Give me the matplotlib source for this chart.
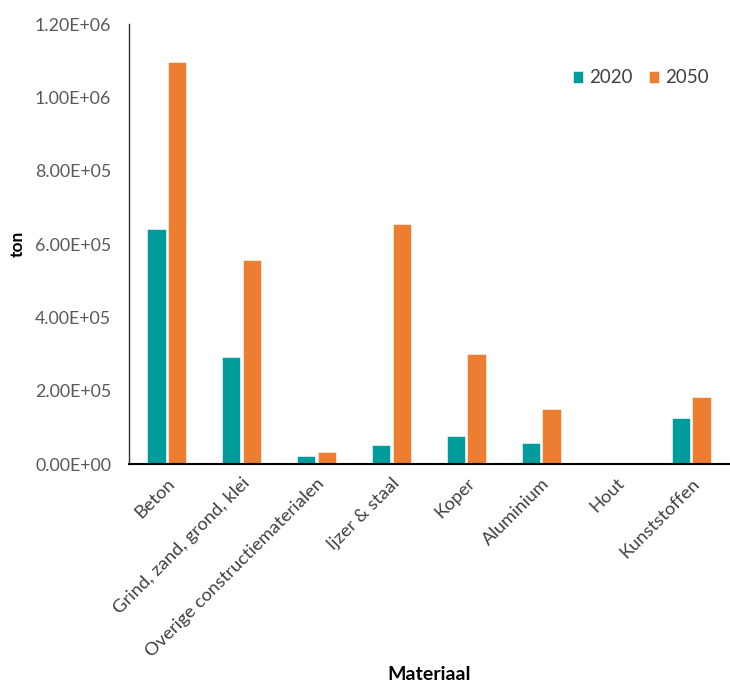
import matplotlib
matplotlib.use("Agg")
import matplotlib.pyplot as plt
import numpy as np

categories = ["Beton", "Grind, zand, grond, klei", "Overige constructiematerialen",
              "Ijzer & staal", "Koper", "Aluminium", "Hout", "Kunststoffen"]
values_2020 = [6.41e5, 2.92e5, 2.3e4, 5.2e4, 7.7e4, 5.7e4, 0, 1.25e5]
values_2050 = [1.096e6, 5.56e5, 3.4e4, 6.55e5, 3.0e5, 1.49e5, 0, 1.83e5]
series_labels = ["2020", "2050"]
y_ticks = [0, 2e5, 4e5, 6e5, 8e5, 1e6, 1.2e6]

teal = "#009B9B"
orange = "#ED7D31"
font = ["Lato", "DejaVu Sans"]
plt.rcParams["font.family"] = font

fig = plt.figure(figsize=(7.30, 6.86), dpi=100)
ax = fig.add_axes([0.177, 0.3236, 0.821, 0.6414])

x = np.arange(len(categories))
w = 0.245
ax.bar(x - w / 2 - 0.015, values_2020, width=w, color=teal, label=series_labels[0],
       edgecolor="white", linewidth=0.4)
ax.bar(x + w / 2 + 0.015, values_2050, width=w, color=orange, label=series_labels[1],
       edgecolor="white", linewidth=0.4)

ax.set_xlim(-0.5, len(categories) - 0.5)
ax.set_ylim(0, 1.2e6)
ax.set_yticks(y_ticks)
ax.set_yticklabels([f"{v:.2E}" for v in y_ticks], color="#595959", fontsize=12.8)
ax.set_xticks(x)
ax.set_xticklabels(categories, rotation=45, ha="right", rotation_mode="anchor",
                   fontsize=13.2, color="#404040")
ax.tick_params(axis="both", length=0)
ax.tick_params(axis="y", pad=13)
ax.tick_params(axis="x", pad=8)

for s in ["top", "right"]:
    ax.spines[s].set_visible(False)
ax.spines["left"].set_color("#333333")
ax.spines["left"].set_linewidth(1.0)
ax.spines["bottom"].set_color("black")
ax.spines["bottom"].set_linewidth(1.5)

ax.set_ylabel("ton", fontsize=12.5, fontweight="bold")
ax.yaxis.set_label_coords(-0.172, 0.5)
ax.set_xlabel("Materiaal", fontsize=14, fontweight="bold", va="top")
ax.xaxis.set_label_coords(0.5, -0.458)

ax.legend(loc="upper right", bbox_to_anchor=(0.995, 0.935), frameon=False, fontsize=13.5,
          handlelength=0.55, handleheight=0.55, handletextpad=0.3, columnspacing=0.9,
          ncol=2, labelcolor="#404040")

fig.savefig("out.png", dpi=100)
